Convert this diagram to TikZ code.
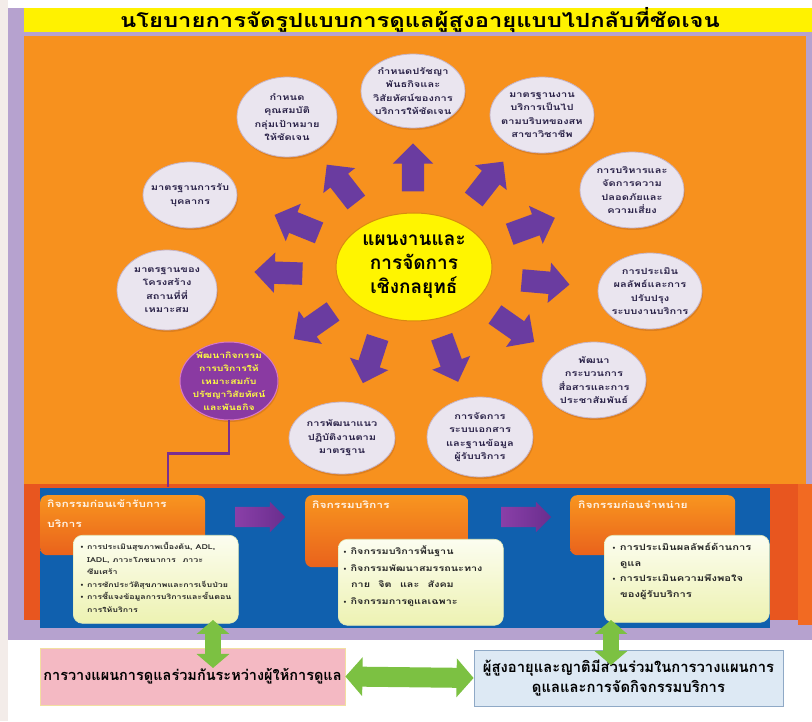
\documentclass[tikz,border=0pt]{standalone}
\usepackage{fontspec}
\setmainfont[Script=Thai]{Loma}
\newfontfamily\wide[Script=Thai, FakeStretch=1.3]{Loma}
\newfontfamily\ttl[Script=Thai, FakeStretch=1.22]{Loma}
\newfontfamily\dejavu{DejaVu Sans}
\usetikzlibrary{shapes.geometric,shapes.arrows,arrows.meta,shadows}
\definecolor{lav}{HTML}{B6A2CF}
\definecolor{beige}{HTML}{F3ECE9}
\definecolor{ttlyel}{HTML}{FFF200}
\definecolor{org}{HTML}{F7911E}
\definecolor{orgred}{HTML}{E8561F}
\definecolor{orgstrip}{HTML}{F26A22}
\definecolor{blu}{HTML}{1060AE}
\definecolor{cyel}{HTML}{FFF500}
\definecolor{cline}{HTML}{D98A10}
\definecolor{bub}{HTML}{EAE5EF}
\definecolor{bubline}{HTML}{C7B4C6}
\definecolor{bubtxt}{HTML}{2A2248}
\definecolor{arrp}{HTML}{6A3CA0}
\definecolor{pbub}{HTML}{8A3AA2}
\definecolor{pbubline}{HTML}{D878C8}
\definecolor{ptxt}{HTML}{FFFF40}
\definecolor{purpline}{HTML}{7A2E90}
\definecolor{grn}{HTML}{7CC142}
\definecolor{pinkb}{HTML}{F4B9C3}
\definecolor{pinkline}{HTML}{F2DFA0}
\definecolor{lblue}{HTML}{DDE9F4}
\definecolor{lbline}{HTML}{8FA9C6}
\definecolor{orgA}{HTML}{F8951F}
\definecolor{orgB}{HTML}{E9621C}
\definecolor{lyA}{HTML}{FCFDF0}
\definecolor{lyB}{HTML}{EDF2B2}
\definecolor{lyline}{HTML}{E3EAB8}
\definecolor{sarA}{HTML}{8A3FA8}
\definecolor{sarB}{HTML}{6A2E8E}
\definecolor{stxt}{HTML}{FFF4E8}
\definecolor{shad}{HTML}{B0601A}
\newcommand{\bul}{{\dejavu\fontsize{6}{6}\selectfont•}\ }
\tikzset{
  bubble/.style={ellipse, draw=bubline, line width=0.8pt, fill=bub, inner xsep=-14pt, inner ysep=-8pt,
    align=center, font=\wide\bfseries\fontsize{8.5}{13.5}\selectfont, text=bubtxt,
    drop shadow={shadow xshift=1pt, shadow yshift=-2pt, opacity=0.35, fill=shad}},
  pbubble/.style={bubble, fill=pbub, draw=pbubline, line width=1pt, text=ptxt},
  parrow/.style={single arrow, fill=arrp, minimum height=48pt, inner xsep=0pt, inner ysep=11pt,
    single arrow head extend=9pt},
  sarrow/.style={single arrow, left color=sarA, right color=sarB, minimum height=50pt, inner xsep=0pt,
    inner ysep=10pt, single arrow head extend=5pt},
  stagebox/.style={rounded corners=7pt, top color=orgA, bottom color=orgB, draw=none, inner sep=0pt},
  lbox/.style={rounded corners=9pt, top color=lyA, bottom color=lyB, draw=lyline, line width=0.6pt, inner sep=0pt},
  stagetitle/.style={font=\wide\bfseries\fontsize{9.3}{20}\selectfont, text=stxt, align=left, inner sep=0pt},
  bultext/.style={text=black!85, align=left, inner sep=0pt},
  gdbl/.style={draw=grn, line width=20pt, {Triangle[width=38pt,length=17pt]}-{Triangle[width=38pt,length=17pt]}},
  gvert/.style={draw=grn, line width=16pt, {Triangle[width=32pt,length=14pt]}-{Triangle[width=32pt,length=14pt]}},
}
\begin{document}
\begin{tikzpicture}[x=1pt,y=1pt]
\useasboundingbox (0,0) rectangle (812,721);
\fill[white] (0,0) rectangle (812,721);
\fill[beige] (0,0) rectangle (8,721);
\fill[lav] (8,81) rectangle (812,713);
\fill[ttlyel] (24,689) rectangle (812,713);
\node[font=\ttl\bfseries\fontsize{19.5}{20}\selectfont, inner sep=0pt] (title) at (420,701)
  {นโยบายการจัดรูปแบบการดูแลผู้สูงอายุแบบไปกลับที่ชัดเจน};
\fill[org] (24,237) rectangle (806,685);
\fill[orgred] (24,101) rectangle (798,237);
\fill[orgstrip] (798,96) rectangle (812,237);
\fill[blu] (40,93) rectangle (770,233);

% centre
\node[ellipse, draw=cline, line width=1pt, fill=cyel, minimum width=156pt, minimum height=108pt,
  inner sep=-10pt, align=center, font=\bfseries\fontsize{19}{24}\selectfont] (plan) at (414,454)
  {แผนงานและ\\การจัดการ\\เชิงกลยุทธ์};

% bubbles
\node[bubble, minimum width=104pt, minimum height=74pt] (b1) at (413,630)
  {กำหนดปรัชญา\\พันธกิจและ\\วิสัยทัศน์ของการ\\บริการให้ชัดเจน};
\node[bubble, minimum width=100pt, minimum height=80pt] (b2) at (287,604)
  {กำหนด\\คุณสมบัติ\\กลุ่มเป้าหมาย\\ให้ชัดเจน};
\node[bubble, minimum width=104pt, minimum height=76pt] (b3) at (542,606)
  {มาตรฐานงาน\\บริการเป็นไป\\ตามบริบทของสห\\สาขาวิชาชีพ};
\node[bubble, minimum width=104pt, minimum height=76pt] (b4) at (632,531)
  {การบริหารและ\\จัดการความ\\ปลอดภัยและ\\ความเสี่ยง};
\node[bubble, minimum width=104pt, minimum height=76pt] (b5) at (650,430)
  {การประเมิน\\ผลลัพธ์และการ\\ปรับปรุง\\ระบบงานบริการ};
\node[bubble, minimum width=104pt, minimum height=76pt] (b6) at (594,341)
  {พัฒนา\\กระบวนการ\\สื่อสารและการ\\ประชาสัมพันธ์};
\node[bubble, minimum width=106pt, minimum height=80pt] (b7) at (480,284)
  {การจัดการ\\ระบบเอกสาร\\และฐานข้อมูล\\ผู้รับบริการ};
\node[bubble, minimum width=106pt, minimum height=72pt] (b8) at (342,283)
  {การพัฒนาแนว\\ปฏิบัติงานตาม\\มาตรฐาน};
\node[pbubble, minimum width=98pt, minimum height=78pt, font=\wide\bfseries\fontsize{8}{13}\selectfont] (b9) at (229,340)
  {พัฒนากิจกรรม\\การบริการให้\\เหมาะสมกับ\\ปรัชญาวิสัยทัศน์\\และพันธกิจ};
\node[bubble, minimum width=100pt, minimum height=80pt] (b10) at (167,431)
  {มาตรฐานของ\\โครงสร้าง\\สถานที่ที่\\เหมาะสม};
\node[bubble, minimum width=94pt, minimum height=66pt] (b11) at (190,526)
  {มาตรฐานการรับ\\บุคลากร};

% radiating arrows
\node[parrow, rotate=90]  (a1)  at (413,548) {};
\node[parrow, rotate=128] (a2)  at (345,533) {};
\node[parrow, rotate=52]  (a3)  at (485,536) {};
\node[parrow, rotate=158] (a4)  at (302,495) {};
\node[parrow, rotate=20]  (a5)  at (527,493) {};
\node[parrow, rotate=178] (a6)  at (284,448) {};
\node[parrow, rotate=-5]  (a7)  at (540,439) {};
\node[parrow, rotate=215] (a8)  at (318,399) {};
\node[parrow, rotate=-35] (a9)  at (510,396) {};
\node[parrow, rotate=252] (a10) at (372,366) {};
\node[parrow, rotate=-70] (a11) at (448,367) {};

% connector from purple bubble
\coordinate (c9) at (168,234);
\draw[purpline, line width=2.5pt] (b9.south) -- ([yshift=-33pt]b9.south) -| (c9);

% stage boxes
\node[stagebox, anchor=north west, minimum width=165pt, minimum height=60pt] (o1) at (40,226) {};
\node[stagebox, anchor=north west, minimum width=163pt, minimum height=72pt] (o2) at (305,226) {};
\node[stagebox, anchor=north west, minimum width=165pt, minimum height=60pt] (o3) at (570,226) {};
\node[stagetitle, anchor=north west] (t1) at ([xshift=7pt,yshift=-5pt]o1.north west)
  {กิจกรรมก่อนเข้ารับการ\\บริการ};
\node[stagetitle, anchor=north west] (t2) at ([xshift=7pt,yshift=-6pt]o2.north west) {กิจกรรมบริการ};
\node[stagetitle, anchor=north west] (t3) at ([xshift=8pt,yshift=-6pt]o3.north west) {กิจกรรมก่อนจำหน่าย};
\node[sarrow] (s1) at (255,204) {};
\node[sarrow] (s2) at (521,204) {};

\node[lbox, anchor=north west, minimum width=165pt, minimum height=88pt] (l1) at (73,186) {};
\node[lbox, anchor=north west, minimum width=165pt, minimum height=86pt] (l2) at (338,182) {};
\node[lbox, anchor=north west, minimum width=165pt, minimum height=87pt] (l3) at (604,186) {};

\node[bultext, anchor=north west, font=\wide\bfseries\fontsize{6.8}{12.6}\selectfont] (x1) at ([xshift=7pt,yshift=-7pt]l1.north west)
  {\bul การประเมินสุขภาพเบื้องต้น, ADL,\\
   \hspace*{7pt}IADL, ภาวะโภชนาการ\quad ภาวะ\\
   \hspace*{7pt}ซึมเศร้า\\
   \bul การซักประวัติสุขภาพและการเจ็บป่วย\\
   \bul การชี้แจงข้อมูลการบริการและขั้นตอน\\
   \hspace*{7pt}การให้บริการ};
\node[bultext, anchor=north west, font=\wide\bfseries\fontsize{8.3}{16.5}\selectfont] (x2) at ([xshift=5pt,yshift=-7pt]l2.north west)
  {\bul กิจกรรมบริการพื้นฐาน\\
   \bul กิจกรรมพัฒนาสมรรถนะทาง\\
   \hspace*{8pt}กาย\quad จิต\quad และ\quad สังคม\\
   \bul กิจกรรมการดูแลเฉพาะ};
\node[bultext, anchor=north west, font=\wide\bfseries\fontsize{8.6}{15.5}\selectfont] (x3) at ([xshift=8pt,yshift=-8pt]l3.north west)
  {\bul การประเมินผลลัพธ์ด้านการ\\
   \hspace*{8pt}ดูแล\\
   \bul การประเมินความพึงพอใจ\\
   \hspace*{8pt}ของผู้รับบริการ};

% bottom boxes
\node[draw=pinkline, line width=0.8pt, fill=pinkb, minimum width=305pt, minimum height=57pt, inner sep=0pt,
  font=\bfseries\fontsize{14.5}{16}\selectfont] (pink) at (192.5,44.5)
  {การวางแผนการดูแลร่วมกันระหว่างผู้ให้การดูแล};
\node[draw=lbline, line width=0.8pt, fill=lblue, minimum width=309pt, minimum height=56pt, inner sep=0pt,
  align=center, font=\bfseries\fontsize{14.8}{20}\selectfont] (lb) at (628.5,43)
  {ผู้สูงอายุและญาติมีส่วนร่วมในการวางแผนการ\\ดูแลและการจัดกิจกรรมบริการ};

\draw[gdbl] (pink.east) -- (lb.west);
\coordinate (v1a) at (213,101);
\coordinate (v1b) at (213,53);
\coordinate (v2a) at (611,101);
\coordinate (v2b) at (611,56);
\draw[gvert] (v1a) -- (v1b);
\draw[gvert] (v2a) -- (v2b);
\end{tikzpicture}
\end{document}
